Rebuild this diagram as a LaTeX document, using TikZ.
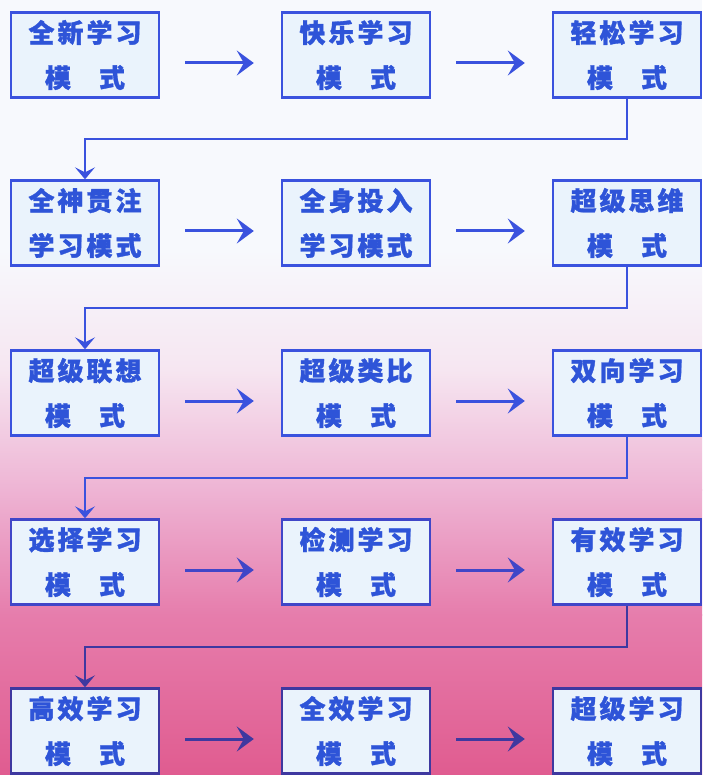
\documentclass[tikz,border=0pt]{standalone}
\usepackage{fontspec}
\newfontfamily\cjk[BoldFeatures={FakeBold=1.3}]{Noto Sans CJK SC}
\usetikzlibrary{arrows.meta,calc}
\definecolor{bgtop}{RGB}{247,249,253}
\definecolor{bgmid}{RGB}{246,230,241}
\definecolor{bgmid2}{RGB}{238,180,212}
\definecolor{bgmid3}{RGB}{230,125,172}
\definecolor{bgbot}{RGB}{224,92,144}
\definecolor{boxfill}{RGB}{234,243,252}
\definecolor{lnA}{RGB}{58,82,222}
\definecolor{lnB}{RGB}{64,70,200}
\definecolor{lnC}{RGB}{62,56,160}
\definecolor{txt}{RGB}{46,84,216}
\newcommand\kk{\kern3pt}
\newcommand\ms{模\hspace{28pt}式}
\tikzset{
  mbox/.style={draw=lnA, line width=2.4pt, fill=boxfill, minimum width=148pt, minimum height=85pt,
    inner sep=0pt, align=center, text=txt, font=\cjk\bfseries\fontsize{26}{45}\selectfont},
  harrow/.style={draw=lnA, line width=3pt, -{Stealth[length=17pt,width=25pt,inset=7pt]}},
  conn/.style={draw=lnA, line width=2.2pt, line join=miter},
  dnarrow/.style={-{Stealth[length=12pt,width=20pt,inset=5pt]}}
}
\begin{document}
\begin{tikzpicture}[x=1pt,y=-1pt]
\useasboundingbox (0,0) rectangle (702,775);
% background
\fill[bgtop] (0,0) rectangle (702,250);
\shade[top color=bgtop,bottom color=bgmid] (0,249.5) rectangle (702,370);
\shade[top color=bgmid,bottom color=bgmid2] (0,369.5) rectangle (702,490);
\shade[top color=bgmid2,bottom color=bgmid3] (0,489.5) rectangle (702,615);
\shade[top color=bgmid3,bottom color=bgbot] (0,614.5) rectangle (702,775);
% row 1
\node[mbox] (a1) at (85,55) {全\kk 新\kk 学\kk 习\\\ms};
\node[mbox] (a2) at (356,55) {快\kk 乐\kk 学\kk 习\\\ms};
\node[mbox] (a3) at (627,55) {轻\kk 松\kk 学\kk 习\\\ms};
% row 2
\node[mbox] (b1) at (85,223) {全\kk 神\kk 贯\kk 注\\学\kk 习\kk 模\kk 式};
\node[mbox] (b2) at (356,223) {全\kk 身\kk 投\kk 入\\学\kk 习\kk 模\kk 式};
\node[mbox] (b3) at (627,223) {超\kk 级\kk 思\kk 维\\\ms};
% row 3
\node[mbox] (c1) at (85,393) {超\kk 级\kk 联\kk 想\\\ms};
\node[mbox] (c2) at (356,393) {超\kk 级\kk 类\kk 比\\\ms};
\node[mbox] (c3) at (627,393) {双\kk 向\kk 学\kk 习\\\ms};
% row 4
\node[mbox,draw=lnB] (d1) at (85,562) {选\kk 择\kk 学\kk 习\\\ms};
\node[mbox,draw=lnB] (d2) at (356,562) {检\kk 测\kk 学\kk 习\\\ms};
\node[mbox,draw=lnB] (d3) at (627,562) {有\kk 效\kk 学\kk 习\\\ms};
% row 5
\node[mbox,draw=lnC] (e1) at (85,731) {高\kk 效\kk 学\kk 习\\\ms};
\node[mbox,draw=lnC] (e2) at (356,731) {全\kk 效\kk 学\kk 习\\\ms};
\node[mbox,draw=lnC] (e3) at (627,731) {超\kk 级\kk 学\kk 习\\\ms};
% horizontal arrows
\foreach \r/\c in {a/lnA,b/lnA,c/lnA,d/lnB,e/lnC}{
  \draw[harrow,draw=\c,shorten <=25pt,shorten >=27pt] ($(\r1.east)+(0,8)$) -- ($(\r2.west)+(0,8)$);
  \draw[harrow,draw=\c,shorten <=25pt,shorten >=27pt] ($(\r2.east)+(0,8)$) -- ($(\r3.west)+(0,8)$);
}
% row connectors
\draw[conn,dnarrow] (a3.south) -- ++(0,40.5) -| (b1.north);
\draw[conn,dnarrow] (b3.south) -- ++(0,41) -| (c1.north);
\draw[conn,dnarrow] (c3.south) -- ++(0,41) -| (d1.north);
\draw[conn,dnarrow,draw=lnC] (d3.south) -- ++(0,41) -| (e1.north);
\end{tikzpicture}
\end{document}
